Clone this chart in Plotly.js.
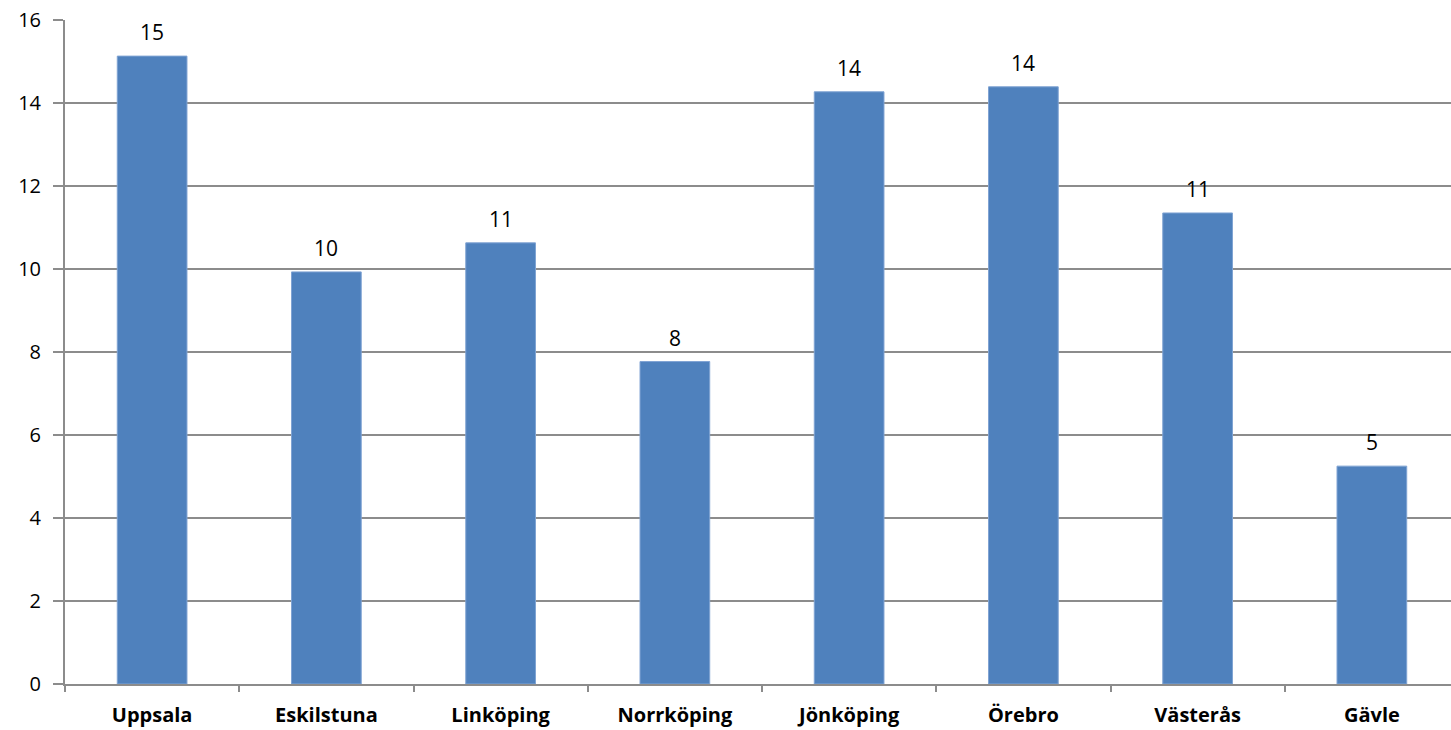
<!DOCTYPE html>
<html>
<head>
<meta charset="utf-8">
<script src="https://cdn.plot.ly/plotly-3.0.1.min.js"></script>
<style>html,body{margin:0;padding:0;background:#fff;overflow:hidden}#chart{width:1459px;height:730px}</style>
</head>
<body>
<div id="chart"></div>
<script>
const categories = ["Uppsala", "Eskilstuna", "Linköping", "Norrköping", "Jönköping", "Örebro", "Västerås", "Gävle"];
const values = [15.13, 9.93, 10.63, 7.77, 14.27, 14.39, 11.35, 5.25];
const labels = ["15", "10", "11", "8", "14", "14", "11", "5"];
const yTicks = [0, 2, 4, 6, 8, 10, 12, 14, 16];

const trace = {
  type: 'bar',
  x: categories,
  y: values,
  marker: {color: '#4f81bd', line: {color: '#7fa3d3', width: 1}},
  width: 0.4,
  hoverinfo: 'none'
};

const annotations = categories.map((c, i) => ({
  x: c, y: values[i], xref: 'x', yref: 'y',
  text: labels[i], showarrow: false,
  yanchor: 'bottom', yshift: 8,
  font: {family: '"Open Sans", Lato, sans-serif', size: 21, color: '#000'}
}));

const layout = {
  width: 1459, height: 730,
  margin: {l: 65, r: 0, t: 20, b: 46},
  paper_bgcolor: '#fff', plot_bgcolor: '#fff',
  showlegend: false,
  annotations: annotations,
  xaxis: {
    type: 'category',
    showgrid: false,
    showline: true, linecolor: '#8c8c8c', linewidth: 2,
    ticks: 'outside', tickson: 'boundaries', ticklen: 6, tickcolor: '#8c8c8c', tickwidth: 2,
    ticklabelstandoff: 12,
    tickfont: {family: '"Open Sans", Lato, sans-serif', size: 20, color: '#000', weight: 'bold'}
  },
  yaxis: {
    range: [0, 16],
    tickvals: yTicks,
    ticktext: yTicks.map(String),
    showgrid: true, gridcolor: '#8c8c8c', gridwidth: 2,
    showline: true, linecolor: '#8c8c8c', linewidth: 2,
    zeroline: false,
    ticks: 'outside', ticklen: 10, tickcolor: '#8c8c8c', tickwidth: 2,
    ticklabelstandoff: 8,
    tickfont: {family: '"Open Sans", Lato, sans-serif', size: 20, color: '#000'}
  },
  font: {family: '"Open Sans", sans-serif'}
};

Plotly.newPlot('chart', [trace], layout, {displayModeBar: false, staticPlot: true});
</script>
</body>
</html>
